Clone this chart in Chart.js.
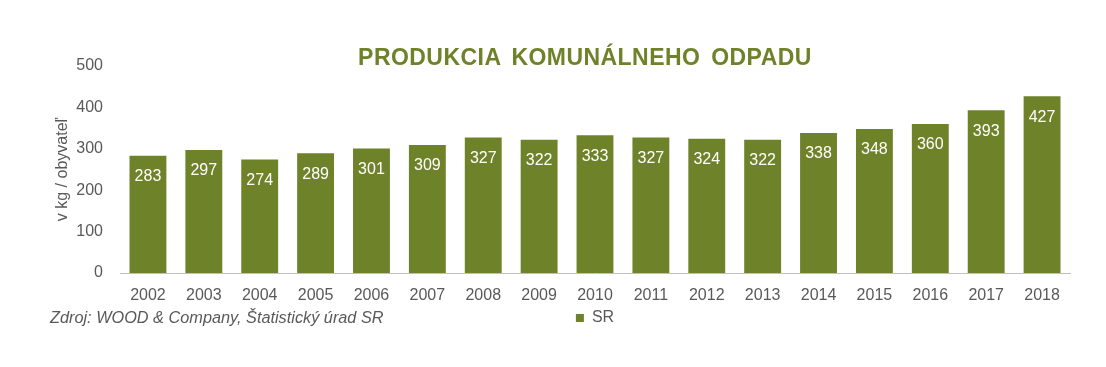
<!DOCTYPE html>
<html>
<head>
<meta charset="utf-8">
<script src="https://cdn.jsdelivr.net/npm/chart.js@4"></script>
<style>
html,body{margin:0;padding:0;background:#fff;}
#wrap{position:relative;width:1106px;height:367px;}
#title{position:absolute;left:0;top:44px;width:1170px;text-align:center;font:bold 23px "Liberation Sans",Arial,sans-serif;color:#6E8229;letter-spacing:0.45px;word-spacing:4px;}
#src{position:absolute;left:50px;top:308px;font:italic 16.3px "Liberation Sans",Arial,sans-serif;color:#595959;}
</style>
</head>
<body>
<div id="wrap">
<canvas id="c" width="1106" height="367"></canvas>
<div id="title">PRODUKCIA KOMUNÁLNEHO ODPADU</div>
<div id="src">Zdroj: WOOD &amp; Company, Štatistický úrad SR</div>
</div>
<script>
const categories = ["2002","2003","2004","2005","2006","2007","2008","2009","2010","2011","2012","2013","2014","2015","2016","2017","2018"];
const srValues = [283,297,274,289,301,309,327,322,333,327,324,322,338,348,360,393,427];
const yTicks = [0,100,200,300,400,500];
const seriesName = "SR";
const yTitle = "v kg / obyvateľ";

const green = "#6E8229";
const grey = "#595959";
const font = '"Liberation Sans", Arial, sans-serif';

const labelPlugin = {
  id: 'barLabels',
  afterDatasetsDraw(chart) {
    const ctx = chart.ctx;
    const meta = chart.getDatasetMeta(0);
    ctx.save();
    ctx.fillStyle = '#ffffff';
    ctx.font = '16px ' + font;
    ctx.textAlign = 'center';
    ctx.textBaseline = 'middle';
    meta.data.forEach((bar, i) => {
      ctx.fillText(String(srValues[i]), bar.x, bar.y + 21);
    });
    ctx.restore();
  }
};

new Chart(document.getElementById('c'), {
  type: 'bar',
  data: {
    labels: categories,
    datasets: [{
      label: seriesName,
      data: srValues,
      backgroundColor: green,
      categoryPercentage: 0.66,
      barPercentage: 1.0
    }]
  },
  options: {
    responsive: false,
    animation: false,
    layout: { padding: { top: 66, right: 36, left: 47, bottom: 31 } },
    plugins: {
      legend: {
        position: 'bottom',
        fullSize: false,
        labels: { boxWidth: 8, boxHeight: 8, color: grey, font: { family: font, size: 16, lineHeight: 1 }, padding: 0 }
      },
      title: { display: false },
      tooltip: { enabled: false }
    },
    scales: {
      x: {
        grid: { display: false },
        border: { color: '#BFBFBF', width: 1 },
        ticks: { color: grey, font: { family: font, size: 16, lineHeight: 1 }, padding: 6.5, maxRotation: 0 }
      },
      y: {
        min: 0, max: 500,
        afterBuildTicks(axis) { axis.ticks = yTicks.map(v => ({ value: v })); },
        afterFit(axis) { axis.width = 73; },
        grid: { display: false },
        border: { display: false },
        ticks: { color: grey, font: { family: font, size: 16 }, padding: 9 },
        title: { display: true, text: yTitle, color: grey, font: { family: font, size: 16 }, padding: 6 }
      }
    }
  },
  plugins: [labelPlugin]
});
</script>
</body>
</html>
